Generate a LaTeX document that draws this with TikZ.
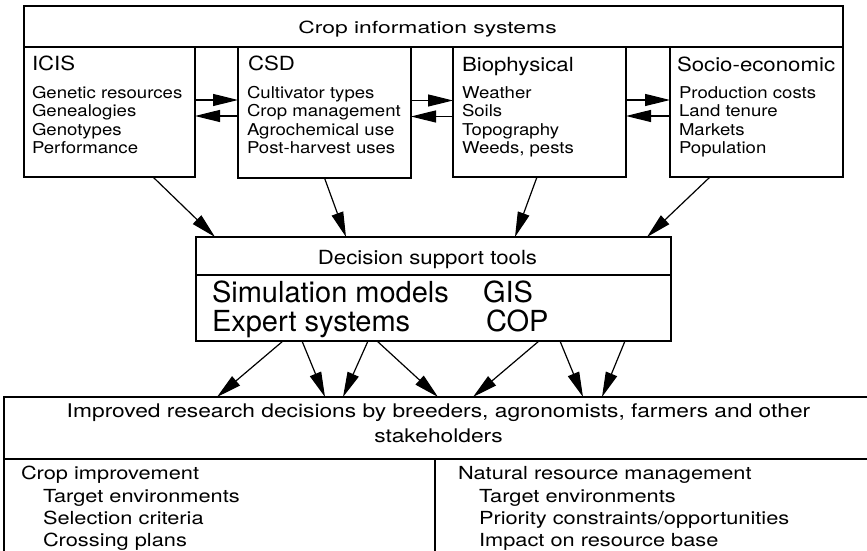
\documentclass[tikz,border=0pt]{standalone}
\usepackage{fontspec}
\setmainfont{TeX Gyre Heros}
\newfontfamily\hxA{TeX Gyre Heros}[FakeStretch=1.14]
\newfontfamily\hxB{TeX Gyre Heros}[FakeStretch=1.21]
\newfontfamily\hxN{TeX Gyre Heros}
\usetikzlibrary{arrows.meta}
\newcommand{\lst}[1]{\begin{tabular}[t]{@{}l@{}}#1\end{tabular}}
\begin{document}
\begin{tikzpicture}[x=1pt,y=1pt,
  box/.style={draw, line width=1.4pt, rectangle, inner sep=0pt, outer sep=0pt},
  arr/.style={line width=1.2pt, -{Triangle[length=25pt,width=12pt]}},
  txt/.style={anchor=base west, inner sep=0pt, outer sep=0pt},
  ctxt/.style={anchor=base, inner sep=0pt, outer sep=0pt},
  head/.style={font=\hxA\fontsize{19.5}{22}\selectfont},
  item/.style={font=\hxA\fontsize{16.3}{18.5}\selectfont},
  big/.style={font=\hxN\fontsize{29}{29}\selectfont},
  low/.style={font=\hxB\fontsize{18}{22.3}\selectfont},
  lowbig/.style={font=\hxB\fontsize{18.8}{22.3}\selectfont},
]
\useasboundingbox (0,0) rectangle (867,551);
\clip (0,0) rectangle (867,551);
% boxes
\node[box, minimum width=819pt, minimum height=41pt] (title) at (433.5,524.5) {};
\node[box, minimum width=171pt, minimum height=130pt] (icis) at (109.5,439) {};
\node[box, minimum width=173pt, minimum height=131pt] (csd) at (324.5,438.5) {};
\node[box, minimum width=173pt, minimum height=130pt] (bio) at (539.5,439) {};
\node[box, minimum width=173pt, minimum height=130pt] (soc) at (756.5,439) {};
\node[box, minimum width=475pt, minimum height=38pt] (dsthead) at (433.5,295) {};
\node[box, minimum width=475pt, minimum height=66pt] (dstbody) at (433.5,243) {};
\node[box, minimum width=866pt, minimum height=62pt] (imphead) at (437,123) {};
\node[box, minimum width=431pt, minimum height=100pt] (impleft) at (219.5,42) {};
\node[box, minimum width=435pt, minimum height=100pt] (impright) at (652.5,42) {};
% texts
\node[ctxt, font=\hxN\fontsize{16.7}{20}\selectfont] (ttitle) at (427.5,517.5) {\scalebox{1.37}[1]{Crop information systems}};
\node[txt, head] (ticis) at (32,480) {ICIS};
\node[txt, item] (licis) at (32,452.7) {\lst{Genetic resources\\Genealogies\\Genotypes\\Performance}};
\node[txt, head] (tcsd) at (248,480) {CSD};
\node[txt, item] (lcsd) at (247,452.7) {\lst{Cultivator types\\Crop management\\Agrochemical use\\Post-harvest uses}};
\node[txt, head] (tbio) at (462,479) {Biophysical};
\node[txt, item] (lbio) at (462,452.7) {\lst{Weather\\Soils\\Topography\\Weeds, pests}};
\node[txt, head] (tsoc) at (677,479) {Socio-economic};
\node[txt, item] (lsoc) at (679,452.7) {\lst{Production costs\\Land tenure\\Markets\\Population}};
\node[ctxt, head] (tdst) at (427.5,286) {Decision support tools};
\node[txt, big] (tsim) at (212,248.3) {Simulation models};
\node[txt, big] (texp) at (212,219.3) {Expert systems};
\node[txt, big] (tgis) at (483,248.3) {GIS};
\node[txt, big] (tcop) at (486,219.3) {COP};
\node[ctxt, lowbig] (timp1) at (438.5,133) {Improved research decisions by breeders, agronomists, farmers and other};
\node[ctxt, lowbig] (timp2) at (438.5,108) {stakeholders};
\node[txt, low] (tcrop) at (21,71) {\lst{Crop improvement\\\hspace{22pt}Target environments\\\hspace{22pt}Selection criteria\\\hspace{22pt}Crossing plans}};
\node[txt, low] (tnrm) at (458,71) {\lst{Natural resource management\\\hspace{21pt}Target environments\\\hspace{21pt}Priority constraints/opportunities\\\hspace{21pt}Impact on resource base}};
% horizontal arrows
\coordinate (a1) at ([yshift=12pt]icis.east);
\coordinate (a2) at ([yshift=-4pt]icis.east);
\draw[arr] (a1) -- (a1 -| csd.west);
\draw[arr] (a2 -| csd.west) -- (a2);
\coordinate (b1) at ([yshift=12pt]csd.east);
\coordinate (b2) at ([yshift=-4pt]csd.east);
\draw[arr] (b1) -- (b1 -| bio.west);
\draw[arr] (b2 -| bio.west) -- (b2);
\coordinate (c1) at ([yshift=12pt]bio.east);
\coordinate (c2) at ([yshift=-4pt]bio.east);
\draw[arr] (c1) -- (c1 -| soc.west);
\draw[arr] (c2 -| soc.west) -- (c2);
% arrows into DST
\draw[arr] ([xshift=43.5pt]icis.south) -- ([xshift=-218.5pt]dsthead.north);
\draw[arr] (csd.south) -- ([xshift=-87.5pt]dsthead.north);
\draw[arr] ([xshift=-2.5pt]bio.south) -- ([xshift=81.5pt]dsthead.north);
\draw[arr] ([xshift=-46.5pt]soc.south) -- ([xshift=213.5pt]dsthead.north);
% arrows out of DST
\draw[arr] ([xshift=-150.5pt]dstbody.south) -- ([xshift=-220pt]imphead.north);
\draw[arr] ([xshift=-131.5pt]dstbody.south) -- ([xshift=-112pt]imphead.north);
\draw[arr] ([xshift=-65.5pt]dstbody.south) -- ([xshift=-94pt]imphead.north);
\draw[arr] ([xshift=-56.5pt]dstbody.south) -- ([xshift=1pt]imphead.north);
\draw[arr] ([xshift=105.5pt]dstbody.south) -- ([xshift=36pt]imphead.north);
\draw[arr] ([xshift=126.5pt]dstbody.south) -- ([xshift=146pt]imphead.north);
\draw[arr] ([xshift=191.5pt]dstbody.south) -- ([xshift=165pt]imphead.north);
\end{tikzpicture}
\end{document}
